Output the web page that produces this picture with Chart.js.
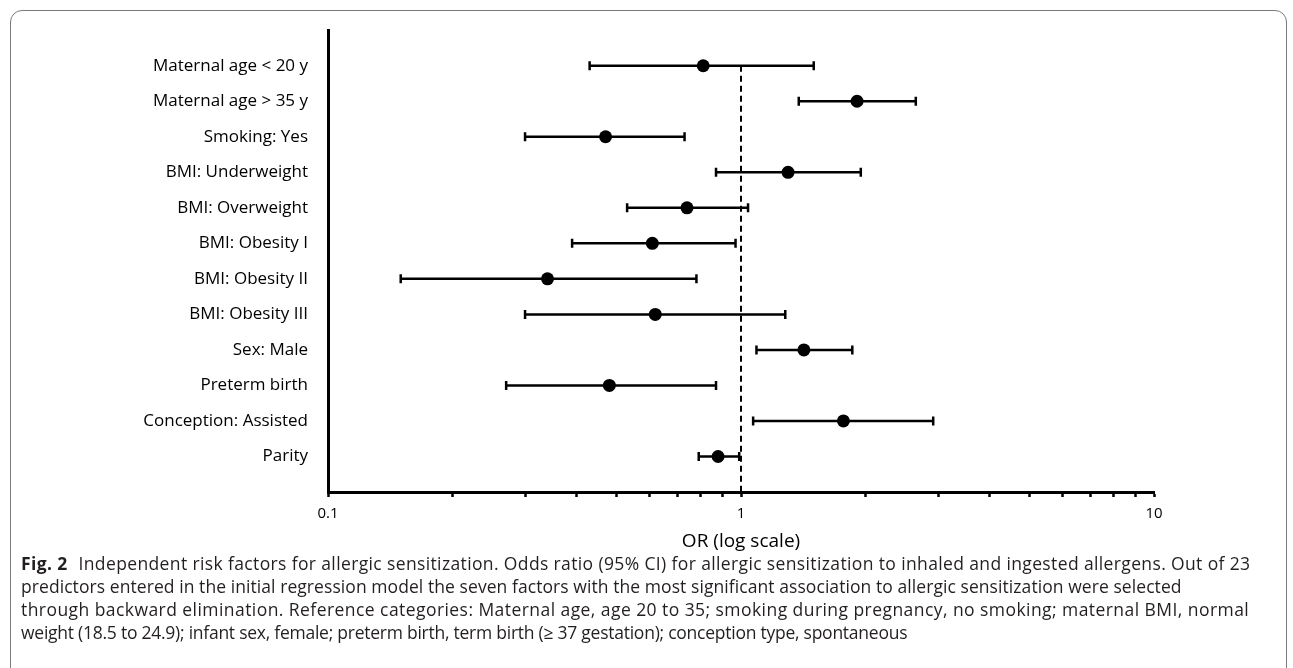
<!DOCTYPE html>
<html>
<head>
<meta charset="utf-8">
<script src="https://cdn.jsdelivr.net/npm/chart.js@4.4.0/dist/chart.umd.min.js"></script>
<style>
  html, body { margin: 0; padding: 0; background: #fff; width: 1293px; height: 668px; overflow: hidden; }
  #frame { position: absolute; left: 10px; top: 10px; width: 1277px; height: 720px; border: 1.5px solid #7a7a7a; border-radius: 12px; box-sizing: border-box; }
  #c { position: absolute; left: 0; top: 0; }
  #caption { position: absolute; left: 21px; top: 552px; font-family: "Open Sans", sans-serif; font-size: 17.5px; line-height: 23px; color: #231f20; white-space: nowrap; }
  #caption div { height: 23px; }
  #caption b { font-weight: 700; margin-right: 6px; }
</style>
</head>
<body>
<div id="frame"></div>
<canvas id="c" width="1293" height="560"></canvas>
<div id="caption">
<div style="letter-spacing:0.37px"><b>Fig. 2</b> Independent risk factors for allergic sensitization. Odds ratio (95% CI) for allergic sensitization to inhaled and ingested allergens. Out of 23</div>
<div style="letter-spacing:0.07px">predictors entered in the initial regression model the seven factors with the most significant association to allergic sensitization were selected</div>
<div style="letter-spacing:0.44px">through backward elimination. Reference categories: Maternal age, age 20 to 35; smoking during pregnancy, no smoking; maternal BMI, normal</div>
<div style="letter-spacing:-0.25px">weight (18.5 to 24.9); infant sex, female; preterm birth, term birth (≥ 37 gestation); conception type, spontaneous</div>
</div>
<script>
const categories = ['Maternal age < 20 y', 'Maternal age > 35 y', 'Smoking: Yes', 'BMI: Underweight', 'BMI: Overweight', 'BMI: Obesity I', 'BMI: Obesity II', 'BMI: Obesity III', 'Sex: Male', 'Preterm birth', 'Conception: Assisted', 'Parity'];
const oddsRatio = [0.81, 1.91, 0.47, 1.30, 0.74, 0.61, 0.34, 0.62, 1.42, 0.48, 1.77, 0.88];
const lowerCI  = [0.43, 1.38, 0.30, 0.87, 0.53, 0.39, 0.15, 0.30, 1.09, 0.27, 1.07, 0.79];
const upperCI  = [1.50, 2.65, 0.73, 1.95, 1.04, 0.97, 0.78, 1.28, 1.86, 0.87, 2.92, 0.99];
const xTickValues = [0.1, 0.2, 0.3, 0.4, 0.5, 0.6, 0.7, 0.8, 0.9, 1, 2, 3, 4, 5, 6, 7, 8, 9, 10];
const xTickLabels = { '0.1': '0.1', '1': '1', '10': '10' };
const refValue = 1;

const labelFont = '"Open Sans", sans-serif';

const errorSets = categories.map((c, i) => ({
  label: c,
  data: [{ x: lowerCI[i], y: i + 1 }, { x: upperCI[i], y: i + 1 }],
  showLine: true,
  borderColor: '#000',
  borderWidth: 2.5,
  pointStyle: 'line',
  rotation: 90,
  pointRadius: 4.5,
  pointBorderWidth: 2.5,
  pointBorderColor: '#000',
  order: 1
}));

const pointSet = {
  label: 'OR',
  data: oddsRatio.map((v, i) => ({ x: v, y: i + 1 })),
  pointRadius: 6.5,
  pointBackgroundColor: '#000',
  pointBorderColor: '#000',
  pointBorderWidth: 0,
  order: 0
};

const refSet = {
  label: 'ref',
  data: [{ x: refValue, y: 1 }, { x: refValue, y: categories.length + 1 }],
  showLine: true,
  borderColor: '#000',
  borderWidth: 2,
  borderDash: [6, 4],
  pointRadius: 0,
  order: 2
};

new Chart(document.getElementById('c'), {
  type: 'scatter',
  data: { datasets: [pointSet, ...errorSets, refSet] },
  options: {
    responsive: false,
    animation: false,
    devicePixelRatio: 1,
    layout: { padding: { left: 0, right: 139, top: 26, bottom: 0 } },
    plugins: { legend: { display: false }, tooltip: { enabled: false } },
    scales: {
      x: {
        type: 'logarithmic',
        min: 0.1,
        max: 10,
        afterBuildTicks: s => { s.ticks = xTickValues.map(v => ({ value: v })); },
        afterFit: s => { s.height = 68; },
        border: { display: true, color: '#000', width: 3 },
        grid: { display: true, drawOnChartArea: false, drawTicks: true, tickLength: 5, tickColor: '#000', tickWidth: 2.5, color: '#000' },
        ticks: {
          autoSkip: false,
          maxRotation: 0,
          padding: 8,
          color: '#000',
          font: { family: labelFont, size: 15 },
          callback: v => xTickLabels[String(v)] || ''
        },
        title: { display: true, text: 'OR (log scale)', color: '#000', font: { family: labelFont, size: 19 }, padding: { top: 0, bottom: 7 } }
      },
      y: {
        type: 'linear',
        reverse: true,
        min: 0,
        max: categories.length + 1,
        afterBuildTicks: s => { s.ticks = categories.map((c, i) => ({ value: i + 1 })); },
        afterFit: s => { s.width = 328; },
        border: { display: true, color: '#000', width: 3 },
        grid: { display: true, drawOnChartArea: false, drawTicks: false, color: 'rgba(0,0,0,0)' },
        ticks: {
          autoSkip: false,
          padding: 20,
          color: '#000',
          font: { family: labelFont, size: 17 },
          callback: v => categories[v - 1] || ''
        }
      }
    }
  }
});
</script>
</body>
</html>
